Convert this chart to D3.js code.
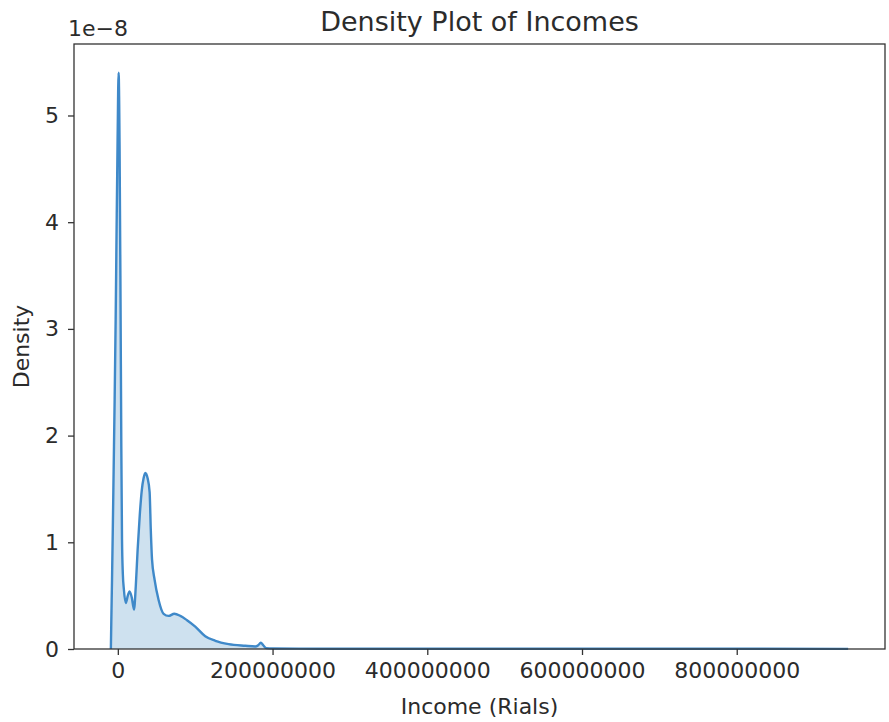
<!DOCTYPE html>
<html>
<head>
<meta charset="utf-8">
<script src="https://cdn.jsdelivr.net/npm/d3@7/dist/d3.min.js"></script>
<style>
  html, body { margin: 0; padding: 0; background: #fff; }
  svg text { font-family: "DejaVu Sans", sans-serif; fill: #2b2b2b; }
</style>
</head>
<body>
<svg id="chart" width="889" height="722"></svg>
<script>
// Kernel density estimate of household incomes (Rials); density in units of 1e-8
const incomes = [
  -9.0e6, -8.4e6, -7.5e6, -6.5e6, -5.4e6, -4.1e6, -2.8e6, -1.6e6, -0.3e6,
  1.0e6, 2.3e6, 3.5e6, 4.5e6, 5.4e6, 6.5e6, 7.8e6, 10.3e6, 12.9e6, 15.2e6,
  18.1e6, 20.9e6, 23.3e6, 25.6e6, 28.4e6, 31.0e6, 33.3e6, 35.5e6, 38.5e6,
  41.1e6, 42.6e6, 44.2e6, 47.5e6, 52.7e6, 59.2e6, 65.6e6, 73.0e6, 80.8e6,
  89.4e6, 100.1e6, 113.0e6, 126.0e6, 143.2e6, 164.7e6, 177.7e6, 181.5e6,
  184.8e6, 188.0e6, 191.9e6, 200e6, 260e6, 350e6, 500e6, 650e6, 800e6, 944e6
];
const density = [
  0.0, 0.27, 0.65, 1.12, 1.68, 2.34, 3.09, 3.93, 4.77,
  5.40, 4.68, 3.27, 1.90, 1.03, 0.70, 0.56, 0.43, 0.50, 0.54,
  0.48, 0.37, 0.60, 0.93, 1.26, 1.49, 1.60, 1.65, 1.60,
  1.47, 1.12, 0.84, 0.65, 0.46, 0.33, 0.31, 0.33, 0.31,
  0.27, 0.21, 0.12, 0.077, 0.046, 0.030, 0.023, 0.035,
  0.058, 0.035, 0.008, 0.005, 0.003, 0.002, 0.002, 0.002, 0.002, 0.001
];
const xTicks = [0, 200000000, 400000000, 600000000, 800000000];
const yTicks = [0, 1, 2, 3, 4, 5];

const svg = d3.select("#chart");
const plotLeft = 74, plotRight = 885, plotTop = 44, plotBottom = 649;

// 5% padding on x around the data, zero-anchored y with 5% headroom
const [xMin, xMax] = d3.extent(incomes);
const pad = (xMax - xMin) * 0.05;
const x = d3.scaleLinear().domain([xMin - pad, xMax + pad]).range([plotLeft, plotRight]);
const y = d3.scaleLinear().domain([0, d3.max(density) * 1.05]).range([plotBottom, plotTop]);

const pts = incomes.map((v, i) => [v, density[i]]);

const area = d3.area()
  .x(d => x(d[0])).y0(y(0)).y1(d => y(d[1]))
  .curve(d3.curveMonotoneX);
const line = d3.line()
  .x(d => x(d[0])).y(d => y(d[1]))
  .curve(d3.curveMonotoneX);

svg.append("path").datum(pts)
  .attr("d", area)
  .attr("fill", "#1f77b4").attr("fill-opacity", 0.22);
svg.append("path").datum(pts)
  .attr("d", line)
  .attr("fill", "none").attr("stroke", "#3f89c9")
  .attr("stroke-width", 2.4).attr("stroke-linejoin", "round");

// axes
const xAxis = d3.axisBottom(x).tickValues(xTicks).tickFormat(d3.format("d"))
  .tickSizeInner(6).tickSizeOuter(0).tickPadding(7);
const yAxis = d3.axisLeft(y).tickValues(yTicks).tickFormat(d3.format("d"))
  .tickSizeInner(6).tickSizeOuter(0).tickPadding(9);

const gx = svg.append("g").attr("transform", `translate(0,${plotBottom})`).call(xAxis);
const gy = svg.append("g").attr("transform", `translate(${plotLeft},0)`).call(yAxis);
[gx, gy].forEach(g => {
  g.select(".domain").remove();
  g.selectAll(".tick line").attr("stroke", "#333").attr("stroke-width", 1.3);
  g.selectAll(".tick text").attr("font-size", 22).style("fill", "#2b2b2b");
});

// frame
svg.append("rect")
  .attr("x", plotLeft).attr("y", plotTop)
  .attr("width", plotRight - plotLeft).attr("height", plotBottom - plotTop)
  .attr("fill", "none").attr("stroke", "#333").attr("stroke-width", 1.3);

// titles
svg.append("text").attr("x", (plotLeft + plotRight) / 2).attr("y", 31)
  .attr("text-anchor", "middle").attr("font-size", 27)
  .text("Density Plot of Incomes");
svg.append("text").attr("x", plotLeft - 6).attr("y", 36)
  .attr("font-size", 22).text("1e\u22128");
svg.append("text").attr("x", (plotLeft + plotRight) / 2).attr("y", 714)
  .attr("text-anchor", "middle").attr("font-size", 22)
  .text("Income (Rials)");
svg.append("text")
  .attr("transform", `translate(29,${(plotTop + plotBottom) / 2}) rotate(-90)`)
  .attr("text-anchor", "middle").attr("font-size", 22)
  .text("Density");
</script>
</body>
</html>
